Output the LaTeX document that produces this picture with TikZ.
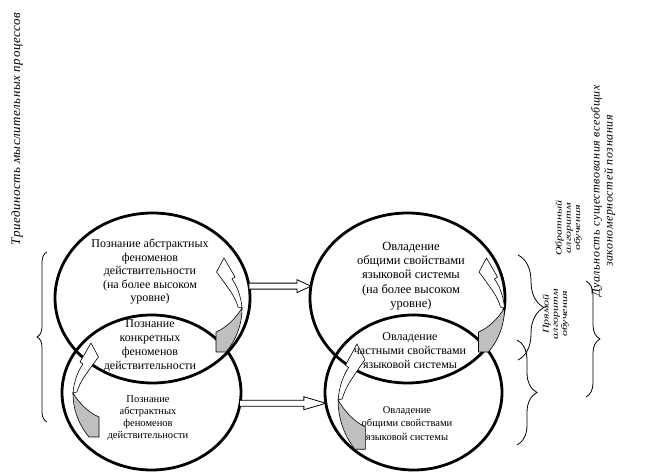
\documentclass[tikz,border=0pt]{standalone}
\usepackage{fontspec}
\setmainfont{Liberation Serif}
\usetikzlibrary{shapes.geometric,decorations.pathreplacing,calc}
\tikzset{
  ell/.style={draw, line width=2.8pt, ellipse, inner sep=0pt, outer sep=0pt},
  txt/.style={align=center, inner sep=0pt},
  blk/.style={draw, line width=0.8pt, fill=white},
  brc/.style={draw, line width=0.8pt, decorate, decoration={brace, amplitude=#1pt}},
  rot/.style={rotate=90, align=center, inner sep=0pt},
  curvarrow/.pic={
    \draw[line width=0.6pt, fill=white] (14,49) .. controls (11,38) and (4,30) .. (-3,20) -- (-7.5,14) -- (0,0) -- (11,19) -- (8,21) .. controls (13,28) and (17,38) .. (18,50) -- cycle;
    \draw[line width=0.6pt, fill=black!25] (18,50) .. controls (12,60) and (2,70) .. (-8,74) -- (-8,94) -- (2,94) .. controls (12,82) and (18,67) .. (18,50) -- cycle;
  }
}
\newcommand\blockarrow[3]{%
  \draw[blk] ($(#1|-#2)+(0,-3)$) -- ($(#2)+(-#3,-3)$) -- ($(#2)+(-#3,-6.5)$) -- (#2) -- ($(#2)+(-#3,6.5)$) -- ($(#2)+(-#3,3)$) -- ($(#1|-#2)+(0,3)$);
}
\newcommand\smalllabel[1]{\scalebox{1}[0.72]{\fontsize{12}{13}\selectfont\itshape\begin{tabular}{@{}c@{}}#1\end{tabular}}}
\begin{document}
\begin{tikzpicture}[x=1pt,y=-1pt]
\useasboundingbox (0,0) rectangle (649,473);
% ellipses
\node[ell, minimum width=195pt, minimum height=170pt] (E1) at (152.5,298) {};
\node[ell, minimum width=179pt, minimum height=155pt] (E2) at (151.5,392.5) {};
\node[ell, minimum width=195pt, minimum height=170pt] (E3) at (407.5,298) {};
\node[ell, minimum width=177pt, minimum height=155pt] (E4) at (413.5,392.5) {};
% block arrows
\coordinate (a1) at (E1.6.5);
\coordinate (a2) at (E3.173.5);
\coordinate (b1) at (E2.-7.7);
\coordinate (b2) at (E4.187.7);
\blockarrow{a1}{a2}{14}
\blockarrow{b1}{b2}{22}
% curved arrows
\pic at (224,258) {curvarrow};
\pic at (486.5,258) {curvarrow};
\pic[xscale=-1] at (91,343) {curvarrow};
\pic[xscale=-1.05, yscale=1.12] at (357,344) {curvarrow};
% texts
\node[txt, font=\fontsize{12}{13.5}\selectfont] (t1) at (150,272) {Познание абстрактных\\феноменов\\действительности\\(на более высоком\\уровне)};
\node[txt, font=\fontsize{12}{14}\selectfont] (t2) at (150,346) {Познание\\конкретных\\феноменов\\действительности};
\node[txt, font=\fontsize{10.5}{12}\selectfont] (t3) at (148,418) {Познание\\абстрактных\\феноменов\\действительности};
\node[txt, font=\fontsize{12.5}{14.3}\selectfont] (t4) at (411,276) {Овладение\\общими свойствами\\языковой системы\\(на более высоком\\уровне)};
\node[txt, font=\fontsize{12}{13.7}\selectfont] (t5) at (410,350.5) {Овладение\\частными свойствами\\языковой системы};
\node[txt, font=\fontsize{10.5}{13.3}\selectfont] (t6) at (407,423.5) {Овладение\\общими свойствами\\языковой системы};
% rotated texts
\node[rot, font=\itshape\fontsize{13}{14}\selectfont\addfontfeatures{LetterSpace=4}] (L) at (17,129) {Триединость мыслительных процессов};
\node[rot, font=\itshape\fontsize{12}{13}\selectfont\addfontfeatures{LetterSpace=5}] (R) at (603,191) {Дуальность существования всеобщих\\закономерностей познания};
\node[rot] (ob) at (569,228) {\smalllabel{Обратный\\алгоритм\\обучения}};
\node[rot] (pr) at (556,314) {\smalllabel{Прямой\\алгоритм\\обучения}};
% braces
\draw[brc=26] (518,255) -- (518,360);
\draw[brc=10] (47,422) -- (47,252);
\draw[brc=20] (517,340) -- (517,445);
\draw[brc=14] (586,281) -- (586,397);
\end{tikzpicture}
\end{document}
